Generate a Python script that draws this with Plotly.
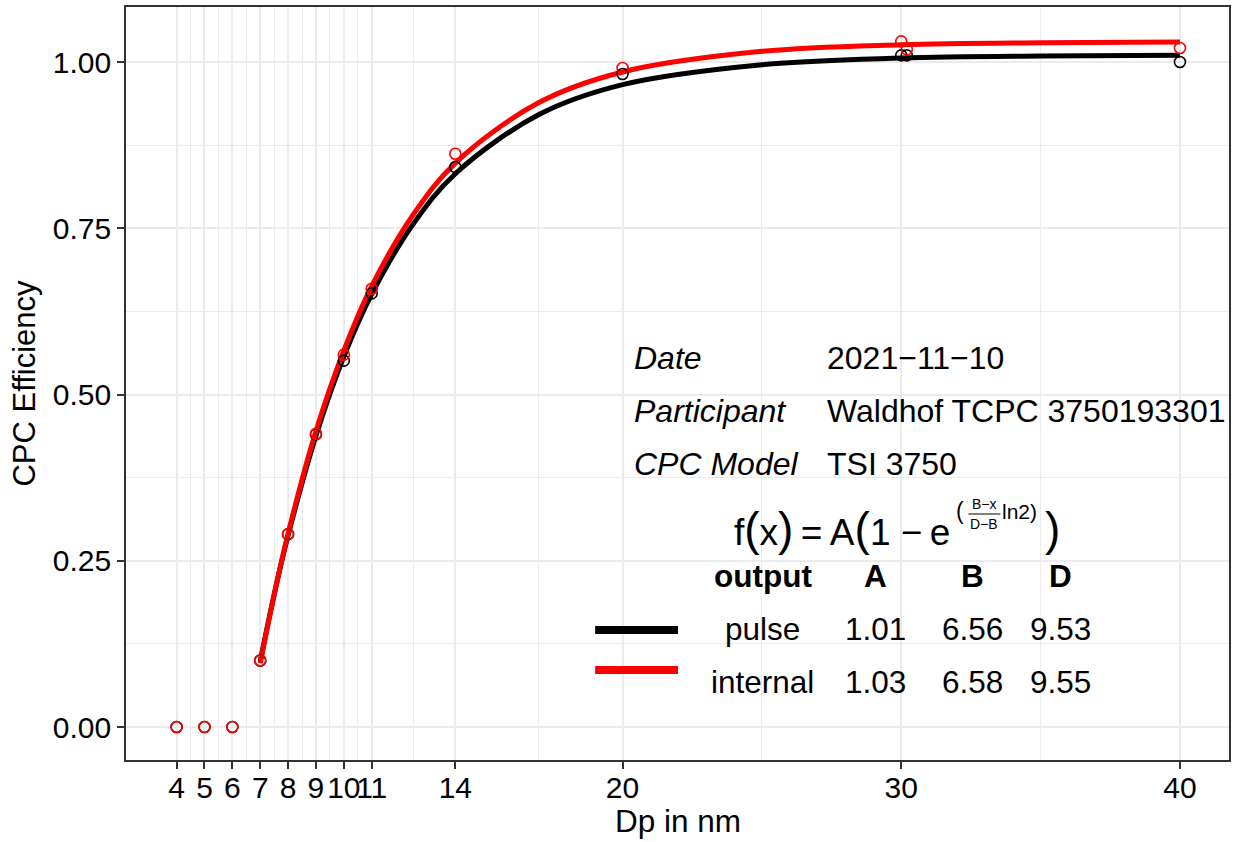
import plotly.graph_objects as go

# ---------------- data ----------------
dp_points = [4, 5, 6, 7, 8, 9, 10, 11, 14, 20, 30, 30.2, 40]
pulse_points = [0.0, 0.0, 0.0, 0.10, 0.29, 0.44, 0.551, 0.652, 0.842, 0.982, 1.010, 1.010, 1.000]
internal_points = [0.0, 0.0, 0.0, 0.10, 0.29, 0.441, 0.560, 0.659, 0.862, 0.991, 1.031, 1.019, 1.021]

dp_curve = [7, 7.5, 8, 9, 10, 11, 12.5, 14, 17, 20, 25, 30, 35, 40]
pulse_curve = [0.099, 0.199, 0.288, 0.438, 0.557, 0.651, 0.757, 0.832, 0.921, 0.966, 0.996, 1.006, 1.009, 1.010]
internal_curve = [0.096, 0.199, 0.291, 0.445, 0.566, 0.663, 0.771, 0.848, 0.939, 0.985, 1.016, 1.026, 1.029, 1.030]

x_ticks = [4, 5, 6, 7, 8, 9, 10, 11, 14, 20, 30, 40]
y_ticks = [0, 0.25, 0.5, 0.75, 1.0]
y_tick_labels = ["0.00", "0.25", "0.50", "0.75", "1.00"]

info_labels = ["Date", "Participant", "CPC Model"]
info_values = ["2021\u221211\u221210", "Waldhof TCPC 3750193301", "TSI 3750"]

table_header = ["output", "A", "B", "D"]
outputs = ["pulse", "internal"]
A_vals = ["1.01", "1.03"]
B_vals = ["6.56", "6.58"]
D_vals = ["9.53", "9.55"]
series_colors = ["black", "red"]

# ---------------- layout helpers ----------------
W, H = 1236, 842
ML, MR, MT, MB = 126, 5, 7, 82
PW, PH = W - ML - MR, H - MT - MB
FONT = "Liberation Sans, Arial, Helvetica, sans-serif"


def px(x):
    return (x - ML) / PW


def py(y):
    return (H - MB - y) / PH


x_minor = [(a + b) / 2 for a, b in zip(x_ticks[:-1], x_ticks[1:])]
y_minor = [(a + b) / 2 for a, b in zip(y_ticks[:-1], y_ticks[1:])]

fig = go.Figure()

curves = [pulse_curve, internal_curve]
points = [pulse_points, internal_points]
for name, col, cy in zip(outputs, series_colors, curves):
    fig.add_trace(go.Scatter(x=dp_curve, y=cy, mode="lines", name=name,
                             line=dict(color=col, width=5, shape="spline", smoothing=1.0),
                             showlegend=False, hoverinfo="skip"))
for name, col, pyv in zip(outputs, series_colors, points):
    fig.add_trace(go.Scatter(x=dp_points, y=pyv, mode="markers", name=name,
                             marker=dict(symbol="circle-open", size=11, color=col,
                                         line=dict(width=1.6, color=col)),
                             showlegend=False))

annotations = []
shapes = []


def txt(x, y, text, size, xanchor="center", yanchor="middle"):
    annotations.append(dict(x=px(x), y=py(y), xref="paper", yref="paper", text=text,
                            showarrow=False, xanchor=xanchor, yanchor=yanchor,
                            font=dict(size=size, color="black", family=FONT)))


# info block
info_y = [358, 411, 464]
for lab, val, yy in zip(info_labels, info_values, info_y):
    txt(633, yy, f"<i>{lab}</i>", 32, xanchor="left")
    txt(826, yy, val, 32, xanchor="left")

# formula
P = "<span style='font-size:46px'>{}</span>"
txt(953, 529,
    "f" + P.format("(") + "x" + P.format(")") + "\u2009=\u2009A" + P.format("(")
    + "1 \u2212\u2009e", 37, xanchor="right")
txt(968, 511, "(", 23, xanchor="right")
txt(986, 504, "B\u2212x", 14)
txt(986, 524, "D\u2212B", 14)
shapes.append(dict(type="line", xref="paper", yref="paper", x0=px(970), x1=px(1002),
                   y0=py(514), y1=py(514), line=dict(color="black", width=1)))
txt(1002, 511, "ln2)", 21, xanchor="left")
txt(1064, 529, ")", 46, xanchor="right")

# table
col_x = [764, 877, 974, 1062]
for cx, hd in zip(col_x, table_header):
    txt(cx, 576, f"<b>{hd}</b>", 31.5)
row_y = [629, 682]
line_y = [630, 670]
for i, (o, a, b, d) in enumerate(zip(outputs, A_vals, B_vals, D_vals)):
    for cx, t in zip(col_x, [o, a, b, d]):
        txt(cx, row_y[i], t, 31.5)
    shapes.append(dict(type="line", xref="paper", yref="paper", x0=px(596), x1=px(679),
                       y0=py(line_y[i]), y1=py(line_y[i]),
                       line=dict(color=series_colors[i], width=8)))

# x-axis title
txt(679, 841, "Dp in nm", 31.5, yanchor="bottom")

axis_common = dict(
    showline=True, mirror=True, linecolor="#333333", linewidth=1.6,
    ticks="outside", ticklen=7, tickwidth=1.6, tickcolor="#333333",
    showgrid=True, gridcolor="#EBEBEB", gridwidth=2, zeroline=False,
    tickfont=dict(size=30, color="black", family=FONT),
)

fig.update_layout(
    width=W, height=H,
    margin=dict(l=ML, r=MR, t=MT, b=MB),
    paper_bgcolor="white", plot_bgcolor="white",
    showlegend=False,
    font=dict(family=FONT, color="black"),
    xaxis=dict(**axis_common, range=[2.184, 41.76], tickmode="array", tickvals=x_ticks,
               ticktext=[str(v) for v in x_ticks], tickangle=0, ticklabelstandoff=-7,
               minor=dict(tickmode="array", tickvals=x_minor, showgrid=True,
                          gridcolor="#EBEBEB", gridwidth=1.2, ticks="")),
    yaxis=dict(**axis_common, range=[-0.0496, 1.0827], tickmode="array", tickvals=y_ticks,
               ticktext=y_tick_labels,
               minor=dict(tickmode="array", tickvals=y_minor, showgrid=True,
                          gridcolor="#EBEBEB", gridwidth=1.2, ticks=""),
               title=dict(text="CPC Efficiency", font=dict(size=31, color="black", family=FONT),
                          standoff=8)),
    annotations=annotations,
    shapes=shapes,
)

fig.write_html("out.html", config={"displayModeBar": False},
               post_script="document.body.style.margin='0px';")
